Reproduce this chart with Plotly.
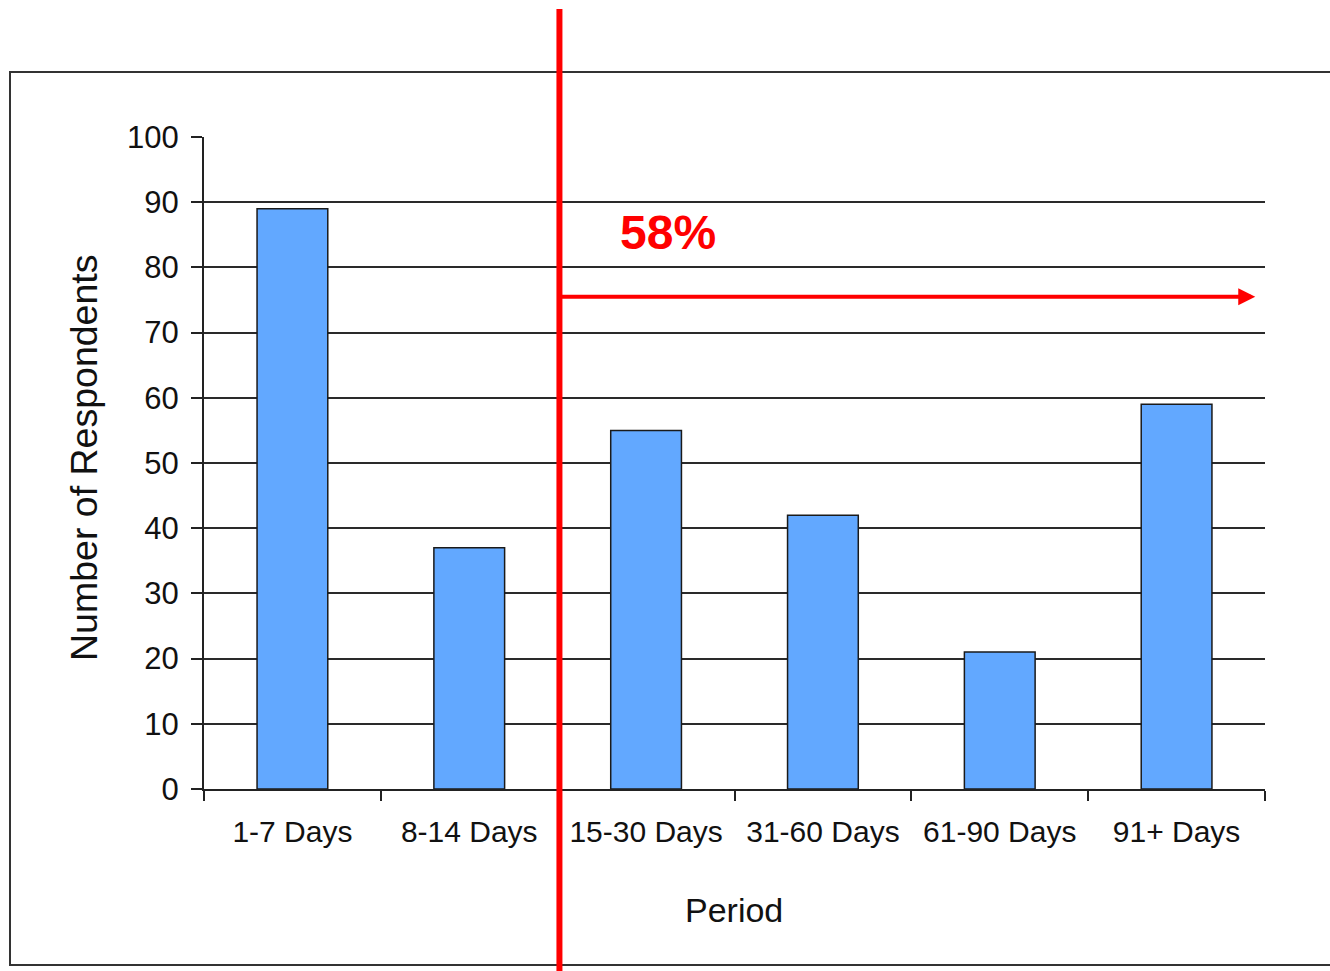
import plotly.graph_objects as go

categories = ["1-7 Days", "8-14 Days", "15-30 Days", "31-60 Days", "61-90 Days", "91+ Days"]
respondents = [89, 37, 55, 42, 21, 59]
y_ticks = [0, 10, 20, 30, 40, 50, 60, 70, 80, 90, 100]
share_label = "58%"
x_title = "Period"
y_title = "Number of Respondents"

W, H = 1330, 971
L, R, T, B = 204, 65, 137, 182
PW, PH = W - L - R, H - T - B


def px_x(p):
    return (p - L) / PW


def px_y(p):
    return (H - B - p) / PH


FONT = "Liberation Sans, Arial, sans-serif"

fig = go.Figure()
fig.add_trace(go.Bar(
    x=categories, y=respondents, width=0.4,
    marker=dict(color="#62A8FF", line=dict(color="#1a1a1a", width=1.5)),
))

fig.update_layout(
    width=W, height=H, autosize=False,
    margin=dict(l=L, r=R, t=T, b=B, pad=0),
    paper_bgcolor="white", plot_bgcolor="white",
    showlegend=False,
    font=dict(family=FONT, color="#111"),
    xaxis=dict(
        type="category", range=[-0.5, 5.5], tickson="boundaries",
        ticks="outside", ticklen=10, tickwidth=2, tickcolor="#222",
        showline=True, linecolor="#222", linewidth=2,
        showgrid=False, tickfont=dict(size=30, family=FONT, color="#111"),
        ticklabelstandoff=15,
    ),
    yaxis=dict(
        range=[0, 100], tickvals=y_ticks,
        ticks="outside", ticklen=11, tickwidth=2, tickcolor="#222",
        showline=True, linecolor="#222", linewidth=2,
        showgrid=True, gridcolor="#2a2a2a", gridwidth=2, zeroline=False,
        tickfont=dict(size=31, family=FONT, color="#111"),
        ticklabelstandoff=6,
    ),
)

shapes = [
    dict(type="rect", xref="paper", yref="paper",
         x0=px_x(10), x1=px_x(1345), y0=px_y(965), y1=px_y(72),
         line=dict(color="#333", width=2), fillcolor="rgba(0,0,0,0)", layer="below"),
    dict(type="line", xref="x", yref="paper",
         x0=1.51, x1=1.51, y0=px_y(975), y1=px_y(9),
         line=dict(color="#FF0000", width=6), layer="above"),
]
fig.update_layout(shapes=shapes)

annotations = [
    dict(x=5.445, y=75.5, xref="x", yref="y", ax=1.51, ay=75.5, axref="x", ayref="y",
         text="", showarrow=True, arrowhead=2, arrowsize=0.85, arrowwidth=4,
         arrowcolor="#FF0000", standoff=0, startstandoff=0),
    dict(x=2.124, y=85.4, xref="x", yref="y", text=share_label, showarrow=False,
         font=dict(size=48, color="#FF0000", family=FONT, weight="bold"),
         xanchor="center", yanchor="middle"),
    dict(x=px_x(84), y=px_y(458), xref="paper", yref="paper", text=y_title,
         textangle=-90, showarrow=False, xanchor="center", yanchor="middle",
         font=dict(size=37.5, family=FONT, color="#111")),
    dict(x=px_x(734), y=px_y(910), xref="paper", yref="paper", text=x_title,
         showarrow=False, xanchor="center", yanchor="middle",
         font=dict(size=34, family=FONT, color="#111")),
]
fig.update_layout(annotations=annotations)

fig.write_html("out.html")
